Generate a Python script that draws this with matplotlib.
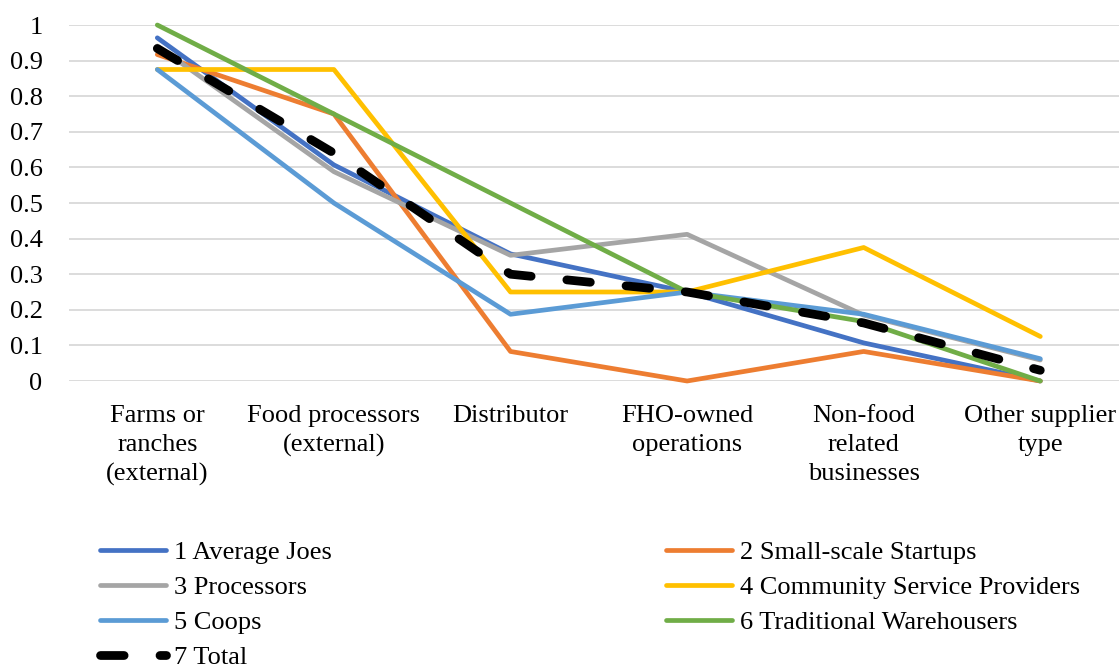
import matplotlib
matplotlib.use("Agg")
import matplotlib.pyplot as plt

categories = ["Farms or\nranches\n(external)", "Food processors\n(external)", "Distributor",
              "FHO-owned\noperations", "Non-food\nrelated\nbusinesses", "Other supplier\ntype"]
series_names = ["1 Average Joes", "2 Small-scale Startups", "3 Processors",
                "4 Community Service Providers", "5 Coops", "6 Traditional Warehousers", "7 Total"]
avg_joes = [0.964, 0.607, 0.357, 0.25, 0.107, 0.0]
startups = [0.917, 0.75, 0.083, 0.0, 0.083, 0.0]
processors = [0.941, 0.588, 0.353, 0.412, 0.185, 0.059]
community = [0.875, 0.875, 0.25, 0.25, 0.375, 0.125]
coops = [0.875, 0.5, 0.1875, 0.25, 0.1875, 0.0625]
warehousers = [1.0, 0.75, 0.5, 0.25, 0.167, 0.0]
total = [0.934, 0.64, 0.30, 0.25, 0.163, 0.03]
yticks = [0, 0.1, 0.2, 0.3, 0.4, 0.5, 0.6, 0.7, 0.8, 0.9, 1]
ytick_labels = ["0", "0.1", "0.2", "0.3", "0.4", "0.5", "0.6", "0.7", "0.8", "0.9", "1"]

colors = ["#4472C4", "#ED7D31", "#A5A5A5", "#FFC000", "#5B9BD5", "#70AD47", "#000000"]
data = [avg_joes, startups, processors, community, coops, warehousers, total]

plt.rcParams['font.family'] = ['Liberation Serif', 'DejaVu Serif']
FS = 19

W, H = 1119, 666
fig = plt.figure(figsize=(W / 100, H / 100), dpi=100)
ax = fig.add_axes([69 / W, 1 - 381 / H, (W - 69) / W, 356 / H])

x = list(range(len(categories)))
handles = []
for i, (name, vals, c) in enumerate(zip(series_names, data, colors)):
    if i == 6:
        ln, = ax.plot(x, vals, color=c, lw=6.3, linestyle=(0, (2.7, 4.1)),
                      dash_capstyle='round', solid_capstyle='round', clip_on=False,
                      zorder=3 + i, label=name)
    else:
        ln, = ax.plot(x, vals, color=c, lw=3.4, solid_capstyle='round',
                      solid_joinstyle='round', clip_on=False, zorder=3 + i, label=name)
    handles.append(ln)

ax.set_xlim(-0.5, -0.5 + (W - 69) / 176.6)
ax.set_ylim(0, 1)
ax.set_yticks(yticks)
ax.set_yticklabels(ytick_labels, fontsize=FS)
ax.set_xticks(x)
ax.set_xticklabels(categories, fontsize=FS, linespacing=1.42)
ax.tick_params(axis='both', length=0)
ax.tick_params(axis='y', pad=19)
ax.tick_params(axis='x', pad=17)
for s in ax.spines.values():
    s.set_visible(False)
ax.grid(axis='y', color='#D9D9D9', lw=1.3)
ax.set_axisbelow(True)

leg_kw = dict(frameon=False, fontsize=FS, handlelength=2.5, handletextpad=0.3,
              labelspacing=0.43, borderaxespad=0, borderpad=0)
col1 = [handles[0], handles[2], handles[4], handles[6]]
col2 = [handles[1], handles[3], handles[5]]
leg1 = fig.legend(col1, [h.get_label() for h in col1], loc='upper left',
                  bbox_to_anchor=(100 / W, 1 - 541 / H), **leg_kw)
leg2 = fig.legend(col2, [h.get_label() for h in col2], loc='upper left',
                  bbox_to_anchor=(666 / W, 1 - 541 / H), **leg_kw)

fig.savefig("out.png", dpi=100)
